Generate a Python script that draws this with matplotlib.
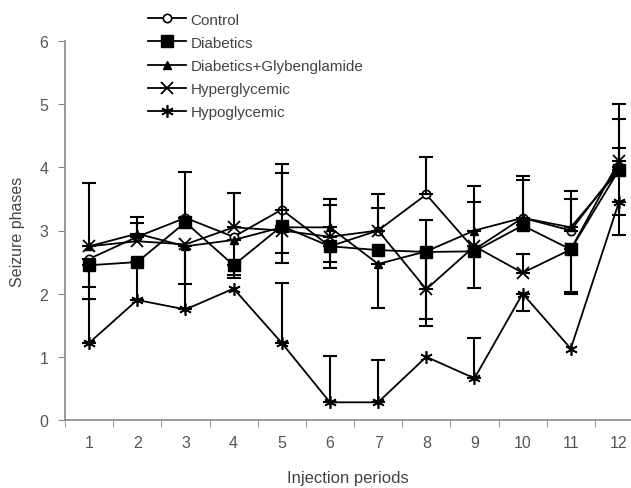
import numpy as np
import matplotlib
matplotlib.use("Agg")
import matplotlib.pyplot as plt
from matplotlib.ticker import FixedLocator

periods = np.arange(1, 13)

control = [2.55, 2.9, 3.2, 2.9, 3.33, 2.75, 3.0, 3.57, 2.7, 3.2, 3.0, 4.0]
diabetics = [2.45, 2.5, 3.13, 2.45, 3.07, 2.75, 2.69, 2.66, 2.67, 3.08, 2.7, 3.96]
diab_glyb = [2.75, 2.95, 2.75, 2.85, 3.05, 3.05, 2.47, 2.67, 3.0, 3.2, 3.05, 3.95]
hyper = [2.75, 2.83, 2.78, 3.05, 3.0, 2.9, 3.0, 2.07, 2.75, 2.33, 2.7, 4.1]
hypo = [1.22, 1.9, 1.75, 2.08, 1.22, 0.28, 0.28, 1.0, 0.66, 2.0, 1.13, 3.45]

# upper / lower error bar lengths (0 = no bar drawn)
control_up = [0, 0.32, 0.73, 0, 0.72, 0, 0.57, 0.6, 0, 0, 0.5, 1.0]
control_dn = [0.45, 0, 0, 0, 0, 0.25, 0, 0, 0, 0, 0, 0]
diabetics_up = [0, 0, 0, 0, 0.84, 0, 0, 0, 0, 0.72, 0, 0.8]
diabetics_dn = [0.54, 0, 0, 0.15, 0, 0.35, 0, 1.17, 0.58, 0, 0.67, 0]
diab_glyb_up = [1.0, 0.17, 0, 0, 0, 0.45, 0, 0, 0.7, 0.67, 0.58, 0.35]
diab_glyb_dn = [0, 0, 0.6, 0.6, 0.4, 0, 0.69, 1.07, 0, 0, 0, 0]
hyper_up = [0, 0, 0, 0.55, 0, 0.5, 0.35, 1.1, 0.7, 0.3, 0, 0]
hyper_dn = [0, 0, 0, 0, 0.52, 0, 0, 0, 0, 0, 0.7, 0.85]
hypo_up = [0.7, 0.6, 1.0, 0, 0.95, 0.73, 0.67, 0, 0.64, 0, 0, 0]
hypo_dn = [0, 0, 0, 0, 0, 0, 0, 0, 0, 0.27, 0, 0.52]

series = [
    ("Control", control, control_up, control_dn, dict(marker="o", ms=6, mfc="white", mew=1.2)),
    ("Diabetics", diabetics, diabetics_up, diabetics_dn, dict(marker="s", ms=8, mfc="black")),
    ("Diabetics+Glybenglamide", diab_glyb, diab_glyb_up, diab_glyb_dn, dict(marker="^", ms=6, mfc="black")),
    ("Hyperglycemic", hyper, hyper_up, hyper_dn, dict(marker="x", ms=8, mew=1.3)),
    ("Hypoglycemic", hypo, hypo_up, hypo_dn, dict(marker=(6, 2, 0), ms=9, mew=1.2)),
]

plt.rcParams["font.family"] = ["Liberation Sans", "DejaVu Sans"]

fig = plt.figure(figsize=(6.31, 4.89), dpi=100)
ax = fig.add_axes([65 / 631, 68 / 489, 566 / 631, 379 / 489])

for name, vals, up, dn, style in series:
    vals = np.asarray(vals)
    up = np.asarray(up)
    dn = np.asarray(dn)
    ax.plot(periods, vals, color="black", lw=1.3, label=name, mec="black", **style)
    # draw one-sided bars separately so no stray caps show
    for err, sign in ((up, 1), (dn, -1)):
        m = err > 0
        if m.any():
            lo = np.zeros(m.sum()) if sign > 0 else err[m]
            hi = err[m] if sign > 0 else np.zeros(m.sum())
            ax.errorbar(periods[m], vals[m], yerr=[lo, hi], fmt="none",
                        ecolor="black", elinewidth=1.5, capsize=5, capthick=1.5)

ax.set_xlim(0.5, 12.25)
ax.set_ylim(0, 6)
ax.set_yticks(range(0, 7))
ax.set_xticks(periods)
ax.xaxis.set_minor_locator(FixedLocator(np.arange(0.5, 12.0, 1.0)))
ax.tick_params(axis="x", which="major", length=0, pad=11, labelsize=11.5, labelcolor="#555555")
ax.tick_params(axis="x", which="minor", length=5, color="#888888", direction="out")
ax.tick_params(axis="y", length=5, color="#888888", direction="out", labelsize=11.5,
               labelcolor="#555555", pad=7)

for s in ("top", "right"):
    ax.spines[s].set_visible(False)
for s in ("left", "bottom"):
    ax.spines[s].set_color("#888888")
    ax.spines[s].set_linewidth(1.2)

ax.set_xlabel("Injection periods", fontsize=12, color="#444444", labelpad=14)
ax.set_ylabel("Seizure phases", fontsize=11.5, color="#444444", labelpad=10)

leg = ax.legend(loc="upper left", bbox_to_anchor=(75 / 566, 1.095), frameon=False,
                fontsize=11, handlelength=2.5, labelspacing=0.6, handletextpad=0.3,
                borderpad=0)
for t in leg.get_texts():
    t.set_color("#444444")

fig.savefig("out.png", dpi=100)
